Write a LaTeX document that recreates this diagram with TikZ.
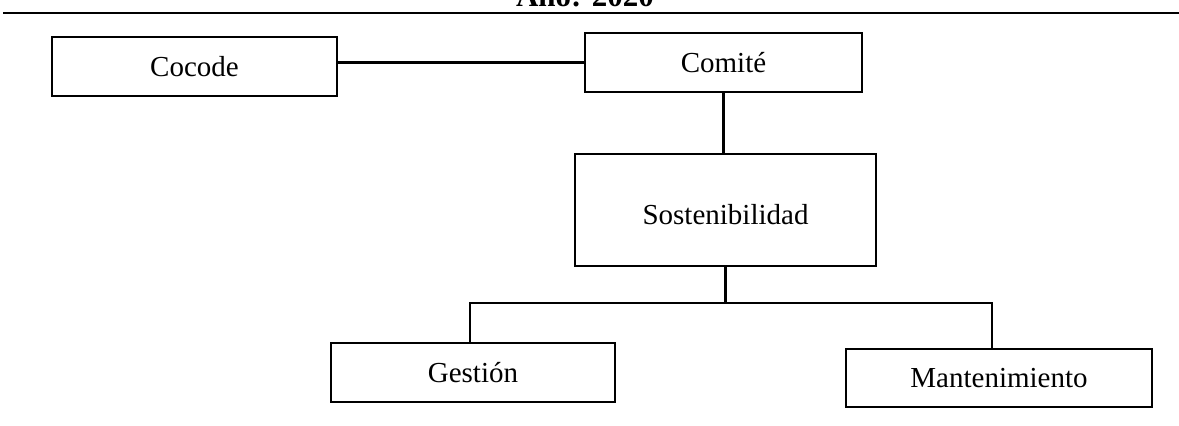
\documentclass[tikz,border=0pt]{standalone}
\usepackage{fontspec}
\setmainfont{Liberation Serif}
\begin{document}
\begin{tikzpicture}[x=1pt,y=-1pt,
  box/.style={draw=black,line width=2.4pt,rectangle,inner sep=0pt,font=\fontsize{29}{32}\selectfont},
  link/.style={draw=black,line width=2.2pt}]
\useasboundingbox (0,0) rectangle (1179,426);
% title (cut off at top edge) and rule
\node[anchor=base,inner sep=0pt,font=\fontsize{31}{34}\selectfont\bfseries] (title) at (585,6.5) {Año: 2020};
\coordinate (ruleL) at (3,13);
\coordinate (ruleR) at (1179,13);
\draw[line width=2pt] (ruleL) -- (ruleR);
% boxes
\node[box,minimum width=285pt,minimum height=59pt] (cocode) at (194.5,66.5) {Cocode};
\node[box,minimum width=277pt,minimum height=59pt] (comite) at (723.5,62.5) {\raisebox{-2pt}{Comité}};
\node[box,minimum width=301pt,minimum height=112pt,text depth=0pt] (sost) at (725.5,210) {\raisebox{-8pt}{Sostenibilidad}};
\node[box,minimum width=284pt,minimum height=59pt] (gestion) at (473,372.5) {\raisebox{-3pt}{Gestión}};
\node[box,minimum width=306pt,minimum height=58pt] (mant) at (999,378) {\raisebox{-3pt}{Mantenimiento}};
% connectors
\draw[link] (comite.west -| cocode.east) -- (comite.west);
\draw[link] (comite.south) -- (comite.south |- sost.north);
\coordinate (busL) at (470,303);
\coordinate (busR) at (992,303);
\draw[link] (sost.south) -- (sost.south |- busL);
\draw[link] (busL |- gestion.north) -- (busL) -- (busR) -- (busR |- mant.north);
\end{tikzpicture}
\end{document}
